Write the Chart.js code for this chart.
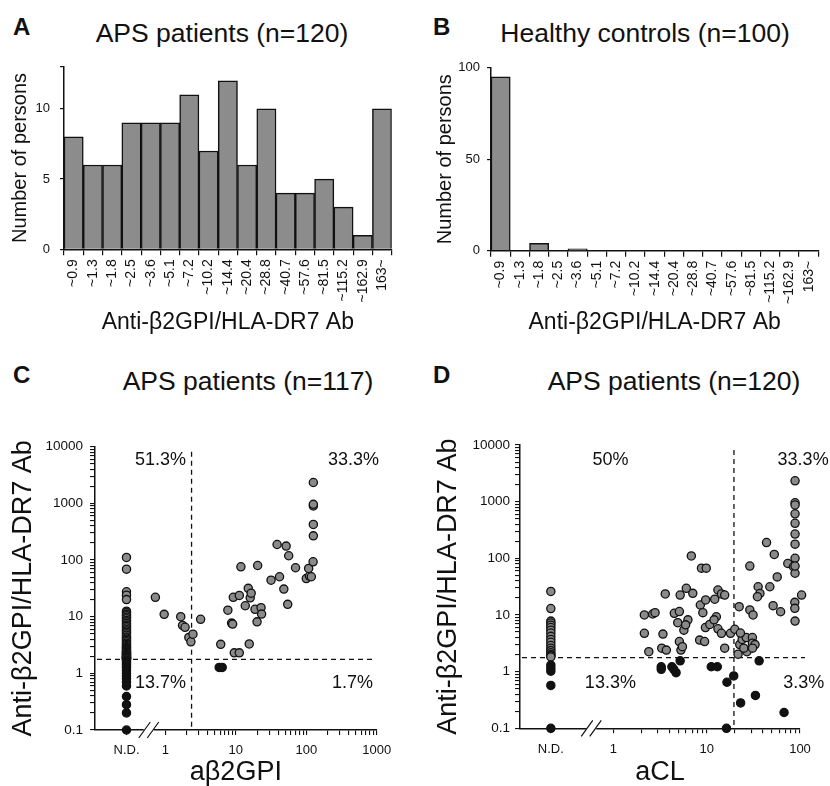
<!DOCTYPE html>
<html>
<head>
<meta charset="utf-8">
<script src="https://cdn.jsdelivr.net/npm/chart.js@4"></script>
<style>
  html, body { margin: 0; padding: 0; background: #fff; }
  body { width: 830px; height: 786px; position: relative; overflow: hidden;
         font-family: "Liberation Sans", Arial, Helvetica, sans-serif; color: #111; }
  .panel { position: absolute; }
  .letter { position: absolute; font-weight: bold; font-size: 24px; line-height: 1; }
  .title { position: absolute; font-size: 26.5px; line-height: 1; white-space: nowrap;
           transform: translate(-50%, -50%); }
</style>
</head>
<body>
<div class="letter" style="left:13px;top:15px">A</div>
<div class="letter" style="left:433px;top:15px">B</div>
<div class="letter" style="left:13px;top:363px">C</div>
<div class="letter" style="left:433px;top:363px">D</div>
<div class="title" style="left:222px;top:33px">APS patients (n=120)</div>
<div class="title" style="left:645px;top:33px">Healthy controls (n=100)</div>
<div class="title" style="left:248px;top:381px">APS patients (n=117)</div>
<div class="title" style="left:674px;top:381px">APS patients (n=120)</div>

<div class="panel" style="left:0;top:0"><canvas id="chartA" width="415" height="336"></canvas></div>
<div class="panel" style="left:415px;top:0"><canvas id="chartB" width="415" height="336"></canvas></div>
<div class="panel" style="left:0;top:360px"><canvas id="chartC" width="415" height="430"></canvas></div>
<div class="panel" style="left:415px;top:360px"><canvas id="chartD" width="415" height="430"></canvas></div>

<script>
// Histogram bins (panels A and B)
const binLabels = ['~0.9', '~1.3', '~1.8', '~2.5', '~3.6', '~5.1', '~7.2', '~10.2', '~14.4',
  '~20.4', '~28.8', '~40.7', '~57.6', '~81.5', '~115.2', '~162.9', '163~'];
const apsCounts = [8, 6, 6, 9, 9, 9, 11, 7, 12, 6, 10, 4, 4, 5, 3, 1, 10];
const controlCounts = [95, 0, 4, 0, 1, 0, 0, 0, 0, 0, 0, 0, 0, 0, 0, 0, 0];

// Panel C: anti-b2GPI/HLA-DR7 Ab of patients whose ab2GPI was not detected
const cNotDetected = [111, 69, 27.5, 24, 20, 12.5, 11.8, 11, 10.4, 9.8, 9.2, 8.6, 8.1, 7.6, 7.1,
  6.7, 6.3, 5.9, 5.6, 5.3, 5, 4.7, 4.4, 4.2, 4, 3.8, 3.6, 3.4, 3.25, 3.1, 2.95, 2.85, 2.75, 2.65,
  2.55, 2.45, 2.4, 2.35, 2.3, 2.25, 2.2, 2.15, 2.1, 2.05, 2.0, 1.97, 1.94, 1.91, 1.88, 1.85, 1.83,
  1.81, 1.79,
  1.72, 1.62, 1.52, 1.43, 1.33, 1.24, 1.12, 1.0, 0.9, 0.8, 0.7, 0.6, 0.39, 0.28, 0.2, 0.1];
// Panel C: patients with measurable ab2GPI
const cAb2gpi = [0.72, 0.96, 1.65, 1.75, 1.9, 2.15, 2.3, 2.46, 3.16, 6.1, 7.7, 8.7, 9.0, 9.2, 11.2,
  9.5, 11.2, 11.8, 20.4, 15.5, 13.6, 15, 16, 16.5, 18.7, 20, 22.8, 23.2, 31.6, 41.7, 38.5, 51.8,
  56.3, 48, 54.5, 70.4, 100, 111, 108, 118, 125, 126, 126, 126, 126, 126, 5.8, 6.4];
const cAntiDr7 = [22, 11, 10, 7, 6.5, 4.3, 3.6, 4.9, 9, 3.25, 13, 7.7, 7.4, 22, 23.7,
  2.3, 2.3, 76, 80, 3.3, 15.6, 31.6, 21.5, 26, 13.5, 8.1, 14.4, 11.1, 44, 50.7, 188, 176,
  119, 30.7, 16.5, 73, 47, 52, 71, 50.7, 93, 267, 424, 900, 960, 2335, 1.27, 1.27];

// Panel D: anti-b2GPI/HLA-DR7 Ab of patients whose aCL was not detected
const dNotDetected = [26, 13, 7.8, 7.2, 6.6, 6, 5.4, 4.8, 4.2, 3.7, 3.3, 2.9, 2.6, 2.35, 2.15,
  2.0, 1.9, 1.82, 1.3, 1.15, 1.02, 0.57, 0.1];
// Panel D: patients with measurable aCL
const dAcl = [2.15, 2.64, 2.8, 2.15, 2.4, 3.4, 3.3, 3.7, 3.6, 4.5, 5.1, 4.9, 6.3, 5.7, 5.95, 5.2,
  6.05, 7.1, 6.85, 5.1, 5.3, 5.5, 8.4, 9.5, 8.55, 9.1, 9.75, 8.8, 9.9, 9.7, 10.8, 12.7, 13.2,
  14.4, 15.6, 12.2, 12, 13.2, 14.4, 15.6, 18, 20,
  22.3, 22.6, 24, 21.7, 26.6, 30.9, 27, 30.9, 29, 31.4, 29, 35.6, 37.2, 35, 47.5, 57, 51.5, 62,
  43.8, 53, 74, 85, 88.5, 88.5, 88.5, 88.5, 88.5, 88.5, 88.5, 88.5, 88.5, 88.5, 104, 88, 88,
  88.5, 25, 33, 23, 31,
  3.26, 3.26, 4.24, 4.44, 4.7, 5.2, 11.2, 13, 16.5, 19.5, 16.3,
  36.5, 23.1, 33.3, 67.5];
const dAntiDr7 = [10, 10.4, 11, 4.75, 2.25, 4.6, 2.6, 2.4, 23.5, 10.7, 11.5, 7.3, 8.2, 5.4, 6.7,
  22.5, 29.6, 24.1, 110, 3.4, 2.4, 2.76, 3.6, 3.4, 15, 11, 18.4, 67, 67, 6, 6.8, 9.3, 27.6, 23.5,
  22.5, 19, 8.2, 5.7, 4.75, 2.6, 4.75, 5.6,
  14, 3.0, 3.7, 2.03, 4.0, 4.0, 2.25, 3.17, 12.3, 10, 73, 31.5, 24, 21, 31.5, 47, 14.6, 11.4,
  190, 117, 81, 71, 54.5, 2337, 955, 873, 610, 415, 268, 178, 100, 73, 22.5, 16.7, 13.1, 7.8,
  2.6, 3.0, 4.8, 2.6,
  1.22, 1.1, 1.22, 1.1, 0.96, 1.55, 1.22, 1.22, 0.65, 0.84, 0.1,
  1.55, 0.28, 0.38, 0.19];

// cut-off values and quadrant percentages
const antiDr7Cutoff = 1.77;
const ab2gpiCutoff = 2.35;
const aclCutoff = 19.6;
const cQuadrantText = ['51.3%', '33.3%', '13.7%', '1.7%'];
const dQuadrantText = ['50%', '33.3%', '13.3%', '3.3%'];

const INK = '#111';
const BAR_GRAY = '#8c8c8c';
const DOT_GRAY = '#8a8a8a';
const FONT = '"Liberation Sans", Arial, Helvetica, sans-serif';
Chart.defaults.font.family = FONT;
Chart.defaults.color = INK;

function histogram(id, counts, yMax, yStep, g) {
  return new Chart(document.getElementById(id), {
    type: 'bar',
    data: {
      labels: binLabels,
      datasets: [{
        data: counts,
        backgroundColor: BAR_GRAY,
        borderColor: INK,
        borderWidth: 1.5,
        categoryPercentage: 1,
        barPercentage: 1
      }]
    },
    options: {
      responsive: false,
      animation: false,
      layout: { padding: g.pad },
      plugins: { legend: { display: false }, tooltip: { enabled: false } },
      scales: {
        x: {
          grid: { offset: true, drawOnChartArea: false, color: INK, tickLength: 6, lineWidth: 1.2 },
          border: { color: INK, width: 1.5 },
          ticks: { font: { size: 14 }, maxRotation: 90, minRotation: 90, autoSkip: false, padding: 4 },
          title: { display: true, text: 'Anti-β2GPI/HLA-DR7 Ab', font: { size: 23 }, padding: 0 },
          afterFit: s => { s.height = g.xH; }
        },
        y: {
          min: 0, max: yMax,
          grid: { drawOnChartArea: false, color: INK, tickLength: 4, lineWidth: 1.2 },
          border: { color: INK, width: 1.5 },
          ticks: { stepSize: yStep, font: { size: 13 }, padding: g.yTickPad,
                   callback: v => (v % yStep === 0 ? v : '') },
          title: { display: true, text: 'Number of persons', font: { size: 20 },
                   padding: { top: g.yTitlePad, bottom: 0 } },
          afterFit: s => { s.width = g.yW; }
        }
      }
    }
  });
}

histogram('chartA', apsCounts, 13, 5,
  { pad: { left: 0, top: 66.7, right: 23.3, bottom: 0 }, xH: 86.7, yW: 64, yTitlePad: 8, yTickPad: 10 });
histogram('chartB', controlCounts, 100, 50,
  { pad: { left: 0, top: 67.7, right: 11.7, bottom: 0 }, xH: 85.3, yW: 76, yTitlePad: 18, yTickPad: 7 });

// tick values for log axes: every 1..9 step of each decade
function logTicks(from, to) {
  const out = [];
  for (let p = from; p < to; p *= 10) {
    for (let k = 1; k < 10; k++) out.push(Number((k * p).toPrecision(3)));
  }
  out.push(to);
  return out;
}
const isDecade = v => Math.abs(Math.log10(v) - Math.round(Math.log10(v))) < 1e-9;

// cut-off lines, quadrant percentages and the axis break
const overlays = {
  id: 'overlays',
  beforeDatasetsDraw(chart, args, o) {
    const { ctx, chartArea: a, scales: { x, y } } = chart;
    const py = y.getPixelForValue(antiDr7Cutoff);
    const px = x.getPixelForValue(o.xCut);
    ctx.save();
    ctx.strokeStyle = INK;
    ctx.lineWidth = 1.3;
    ctx.setLineDash([5, 4]);
    ctx.beginPath();
    ctx.moveTo(a.left + 2, py); ctx.lineTo(a.right + o.hExtra, py);
    ctx.moveTo(px, a.top + 5); ctx.lineTo(px, a.bottom);
    ctx.stroke();
    ctx.restore();
  },
  afterDatasetsDraw(chart, args, o) {
    const { ctx, chartArea: a, scales: { x, y } } = chart;
    ctx.save();
    ctx.fillStyle = INK;
    ctx.font = '18px ' + FONT;
    ctx.textAlign = 'center';
    ctx.textBaseline = 'middle';
    o.labels.forEach((t, i) => {
      ctx.fillText(t, x.getPixelForValue(o.labelX[i]), y.getPixelForValue(o.labelY[i]));
    });
    // axis break "//"
    const bx = x.getPixelForValue(o.breakAt);
    const by = a.bottom;
    ctx.fillStyle = '#fff';
    ctx.fillRect(bx - 5, by - 2, 10, 4);
    ctx.strokeStyle = INK;
    ctx.lineWidth = 1.2;
    ctx.beginPath();
    ctx.moveTo(bx - 10, by + 8); ctx.lineTo(bx + 1.5, by - 8);
    ctx.moveTo(bx - 1.5, by + 8); ctx.lineTo(bx + 10, by - 8);
    ctx.stroke();
    ctx.restore();
  }
};

function scatterPanel(id, ndPos, ndVals, xs, ys, xMax, xTitle, o, g) {
  const points = ndVals.map(v => ({ x: ndPos, y: v }))
    .concat(xs.map((v, i) => ({ x: v, y: ys[i] })));
  const xTicks = [ndPos].concat(logTicks(1, xMax));
  const yTicks = logTicks(0.1, 10000);
  return new Chart(document.getElementById(id), {
    type: 'scatter',
    data: {
      datasets: [{
        data: points,
        pointRadius: 4.1,
        pointBorderWidth: 1.3,
        pointBorderColor: INK,
        pointBackgroundColor: c => (c.raw && c.raw.y < antiDr7Cutoff ? INK : DOT_GRAY),
        clip: false
      }]
    },
    options: {
      responsive: false,
      animation: false,
      layout: { padding: g.pad },
      plugins: { legend: { display: false }, tooltip: { enabled: false }, overlays: o },
      scales: {
        x: {
          type: 'logarithmic', min: 0.1, max: xMax,
          afterBuildTicks: s => { s.ticks = xTicks.map(v => ({ value: v })); },
          grid: { drawOnChartArea: false, color: INK, tickLength: 5, lineWidth: 1.1 },
          border: { color: INK, width: 1.5 },
          ticks: { autoSkip: false, maxRotation: 0, font: { size: 13 }, padding: 8,
                   callback: v => (v === ndPos ? 'N.D.' : (isDecade(v) ? String(v) : '')) },
          title: { display: true, text: xTitle, font: { size: 27 }, padding: 0 },
          afterFit: s => { s.height = g.xH; }
        },
        y: {
          type: 'logarithmic', min: 0.1, max: 10000,
          afterBuildTicks: s => { s.ticks = yTicks.map(v => ({ value: v })); },
          grid: { drawOnChartArea: false, color: INK, tickLength: 5, lineWidth: 1.1 },
          border: { color: INK, width: 1.5 },
          ticks: { autoSkip: false, font: { size: 13.5 }, padding: g.yTickPad,
                   callback: v => (isDecade(v) ? String(v) : '') },
          title: { display: true, text: 'Anti-β2GPI/HLA-DR7 Ab', font: { size: 27 },
                   padding: { top: g.yTitlePad, bottom: 0 } },
          afterFit: s => { s.width = g.yW; }
        }
      }
    },
    plugins: [overlays]
  });
}

scatterPanel('chartC', 0.28, cNotDetected, cAb2gpi, cAntiDr7, 1000, 'aβ2GPI',
  { xCut: ab2gpiCutoff, hExtra: -2, breakAt: 0.58, labels: cQuadrantText,
    labelX: [0.85, 469, 0.85, 454], labelY: [5780, 5780, 0.67, 0.67] },
  { pad: { left: 0, top: 86.7, right: 38.3, bottom: 0.8 }, xH: 59.2, yW: 95, yTitlePad: 7.3, yTickPad: 7 });

scatterPanel('chartD', 0.214, dNotDetected, dAcl, dAntiDr7, 100, 'aCL',
  { xCut: aclCutoff, hExtra: 5, breakAt: 0.58, labels: dQuadrantText,
    labelX: [0.93, 108, 0.93, 110], labelY: [5420, 5420, 0.63, 0.63] },
  { pad: { left: 0, top: 85, right: 30, bottom: 0.8 }, xH: 60.9, yW: 105, yTitlePad: 17.1, yTickPad: 5 });
</script>
</body>
</html>
